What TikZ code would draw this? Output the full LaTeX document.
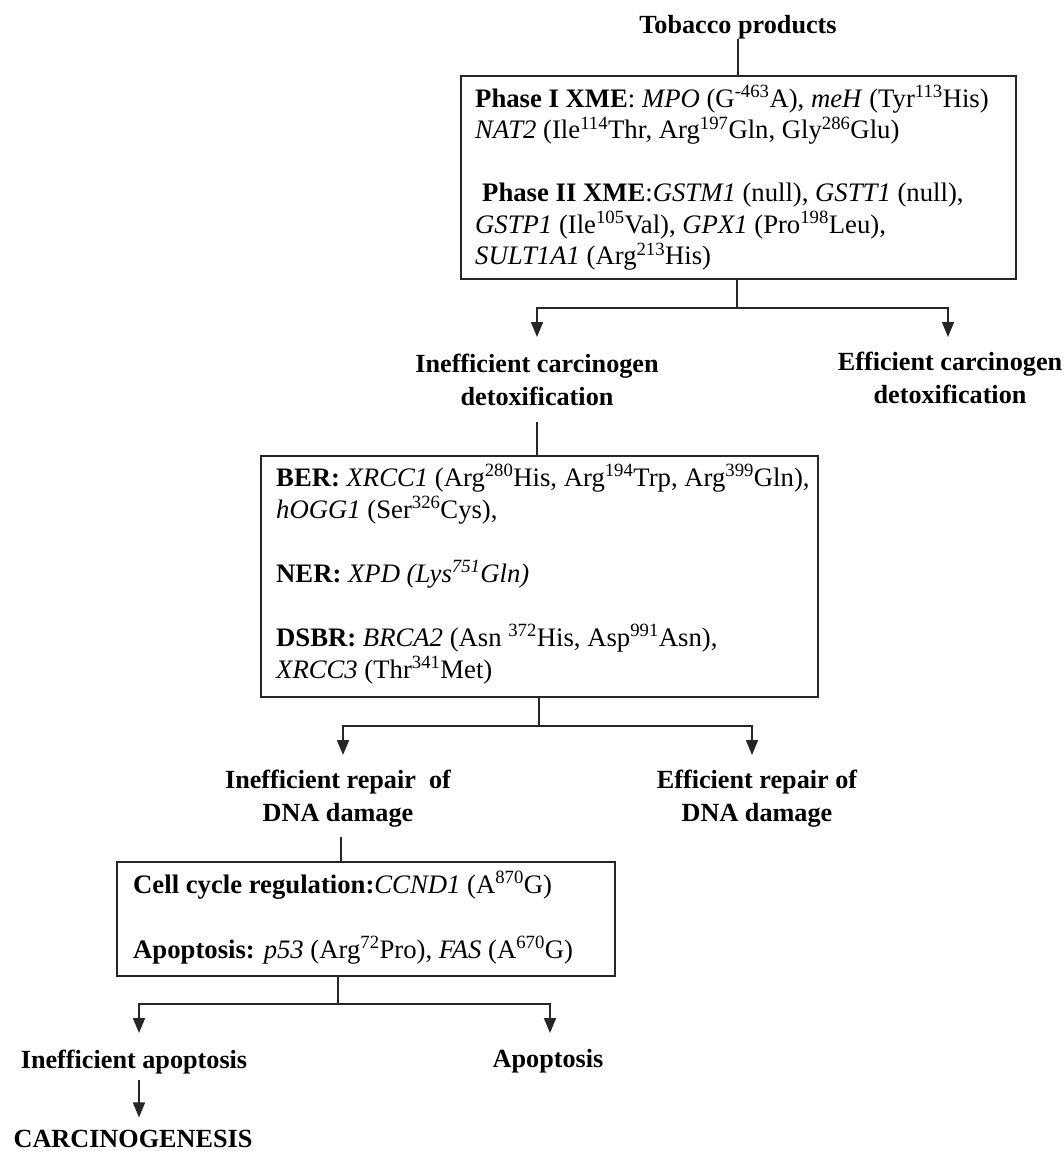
\documentclass[tikz,border=0pt]{standalone}
\usepackage{fontspec}
\setmainfont{Liberation Serif}
\usetikzlibrary{arrows.meta,calc}
\begin{document}
\begin{tikzpicture}[x=1pt,y=-1pt,
 ln/.style={line width=1.7pt,draw=black!85},
 arr/.style={ln,-{Triangle[length=15pt,width=12pt]}},
 boxst/.style={draw=black!85,line width=1.7pt,rectangle,inner sep=0pt},
 lbl/.style={font=\fontsize{26.2}{30}\selectfont\bfseries,inner sep=0pt,anchor=base},
 txt/.style={font=\fontsize{26.7}{30}\selectfont,inner sep=0pt,anchor=base west}]
\useasboundingbox (0,0) rectangle (1064,1151);
\fill[white] (0,0) rectangle (1064,1151);

% top
\node[lbl] (tob) at (738,33) {Tobacco products};
\node[boxst,minimum width=555pt,minimum height=203pt] (b1) at (738.5,177.5) {};
\node[txt] (p1a) at (475,107) {\textbf{Phase I XME}: \textit{MPO} (G\textsuperscript{-463}A), \textit{meH} (Tyr\textsuperscript{113}His)};
\node[txt] (p1b) at (475,138.5) {\textit{NAT2} (Ile\textsuperscript{114}Thr, Arg\textsuperscript{197}Gln, Gly\textsuperscript{286}Glu)};
\node[txt] (p2a) at (482,201.5) {\textbf{Phase II XME}:\textit{GSTM1} (null), \textit{GSTT1} (null),};
\node[txt] (p2b) at (475,233) {\textit{GSTP1} (Ile\textsuperscript{105}Val), \textit{GPX1} (Pro\textsuperscript{198}Leu),};
\node[txt] (p2c) at (475,264.5) {\textit{SULT1A1} (Arg\textsuperscript{213}His)};
\draw[ln] (tob.south) -- (tob.south |- b1.north);

\coordinate (j1) at (737,308);
\draw[ln] (j1 |- b1.south) -- (j1);
\node[lbl] (ic1) at (537,372) {Inefficient carcinogen};
\node[lbl] (ic2) at (537,405) {detoxification};
\node[lbl] (ec1) at (950,370) {Efficient carcinogen};
\node[lbl] (ec2) at (950,403) {detoxification};
\draw[arr] (j1) -| ($(ic1.north |- j1)+(0,29)$);
\draw[arr] (j1) -| ($(ec1.north |- j1)+(-2,29)$);

% box 2
\node[boxst,minimum width=557pt,minimum height=241pt] (b2) at (539.5,576.5) {};
\draw[ln] ($(ic2.south)+(0,17)$) -- (ic2.south |- b2.north);
\node[txt] (r1) at (276,486) {\textbf{BER:} \textit{XRCC1} (Arg\textsuperscript{280}His, Arg\textsuperscript{194}Trp, Arg\textsuperscript{399}Gln),};
\node[txt] (r2) at (276,518) {\textit{hOGG1} (Ser\textsuperscript{326}Cys),};
\node[txt] (r3) at (276,582) {\textbf{NER:} \textit{XPD (Lys\textsuperscript{751}Gln)}};
\node[txt] (r4) at (276,646) {\textbf{DSBR:} \textit{BRCA2} (Asn \textsuperscript{372}His, Asp\textsuperscript{991}Asn),};
\node[txt] (r5) at (276,678) {\textit{XRCC3} (Thr\textsuperscript{341}Met)};

\coordinate (j2) at (539,726);
\draw[ln] (j2 |- b2.south) -- (j2);
\node[lbl] (ir1) at (338,788) {Inefficient repair~~of};
\node[lbl] (ir2) at (338,821) {DNA damage};
\node[lbl] (er1) at (757,788) {Efficient repair of};
\node[lbl] (er2) at (757,821) {DNA damage};
\draw[arr] (j2) -| ($(ir1.north |- j2)+(5,29)$);
\draw[arr] (j2) -| ($(er1.north |- j2)+(-5,29)$);

% box 3
\node[boxst,minimum width=498pt,minimum height=114pt] (b3) at (366,919) {};
\draw[ln] ($(ir2.south)+(3,10)$) -- ($(ir2.south |- b3.north)+(3,0)$);
\node[txt] (c1) at (133,893) {\textbf{Cell cycle regulation:}\textit{CCND1} (A\textsuperscript{870}G)};
\node[txt] (c2) at (133,958) {\textbf{Apoptosis:} \textit{p53} (Arg\textsuperscript{72}Pro), \textit{FAS} (A\textsuperscript{670}G)};

\coordinate (j3) at (338,1004);
\draw[ln] (j3 |- b3.south) -- (j3);
\node[lbl] (ia) at (134,1068) {Inefficient apoptosis};
\node[lbl] (ap) at (548,1067) {Apoptosis};
\draw[arr] (j3) -| ($(ia.north |- j3)+(5,29)$);
\draw[arr] (j3) -| ($(ap.north |- j3)+(2,29)$);
\node[lbl] (carc) at (133,1147) {CARCINOGENESIS};
\draw[arr] ($(ia.south)+(5,6)$) -- ($(carc.north)+(6,-12)$);
\end{tikzpicture}
\end{document}
